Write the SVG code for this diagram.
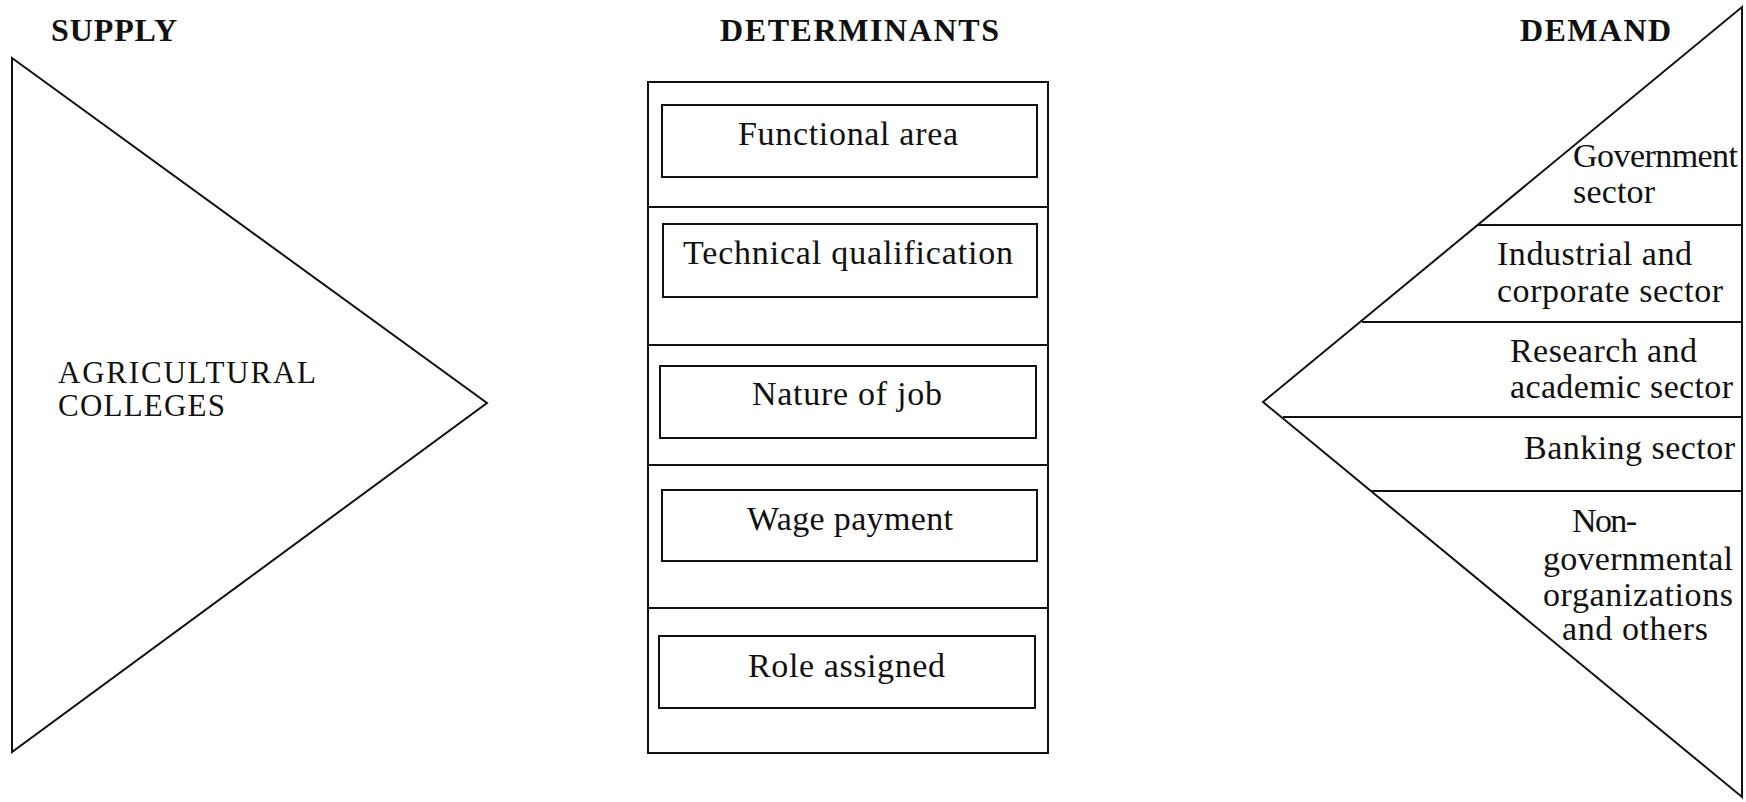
<svg xmlns="http://www.w3.org/2000/svg" width="1746" height="802" viewBox="0 0 1746 802">
  <style>
    .shape { fill: none; stroke: #111; stroke-width: 2; }
    .line { stroke: #111; stroke-width: 2; }
    .head { font-family: "Liberation Serif", "Times New Roman", serif; font-weight: bold; font-size: 32px; fill: #111; }
    .lbl { font-family: "Liberation Serif", "Times New Roman", serif; font-size: 34px; fill: #111; }
    .cap { font-family: "Liberation Serif", "Times New Roman", serif; font-size: 31px; fill: #111; }
  </style>
  <rect width="1746" height="802" fill="#fff"/>

  <!-- column headings -->
  <g id="headings">
    <text class="head" x="51" y="41" textLength="126" lengthAdjust="spacing">SUPPLY</text>
    <text class="head" x="720" y="41" textLength="279" lengthAdjust="spacing">DETERMINANTS</text>
    <text class="head" x="1520" y="41" textLength="151" lengthAdjust="spacing">DEMAND</text>
  </g>

  <!-- supply side: arrow-shaped triangle -->
  <g id="supply">
    <polygon class="shape" points="12,58 487,403 12,752"/>
    <text class="cap" x="58" y="383" textLength="258" lengthAdjust="spacing">AGRICULTURAL</text>
    <text class="cap" x="58" y="416" textLength="167" lengthAdjust="spacing">COLLEGES</text>
  </g>

  <!-- determinants column -->
  <g id="determinants">
    <rect class="shape" x="648" y="82" width="400" height="671"/>
  </g>
  <g id="connectors">
    <line class="line" x1="648" y1="207" x2="1048" y2="207"/>
    <line class="line" x1="648" y1="345" x2="1048" y2="345"/>
    <line class="line" x1="648" y1="465" x2="1048" y2="465"/>
    <line class="line" x1="648" y1="608" x2="1048" y2="608"/>
    <!-- demand sector dividers -->
    <line class="line" x1="1478" y1="225" x2="1742" y2="225"/>
    <line class="line" x1="1362" y1="322" x2="1742" y2="322"/>
    <line class="line" x1="1283" y1="417" x2="1742" y2="417"/>
    <line class="line" x1="1371" y1="491" x2="1742" y2="491"/>
  </g>

  <g id="functional-area">
    <rect class="shape" x="662" y="105" width="375" height="72"/>
    <text class="lbl" x="738" y="145" textLength="220" lengthAdjust="spacing">Functional area</text>
  </g>
  <g id="technical-qualification">
    <rect class="shape" x="663" y="224" width="374" height="73"/>
    <text class="lbl" x="683" y="264" textLength="330" lengthAdjust="spacing">Technical qualification</text>
  </g>
  <g id="nature-of-job">
    <rect class="shape" x="660" y="366" width="376" height="72"/>
    <text class="lbl" x="752" y="405" textLength="190" lengthAdjust="spacing">Nature of job</text>
  </g>
  <g id="wage-payment">
    <rect class="shape" x="662" y="490" width="375" height="71"/>
    <text class="lbl" x="747" y="530" textLength="206" lengthAdjust="spacing">Wage payment</text>
  </g>
  <g id="role-assigned">
    <rect class="shape" x="659" y="636" width="376" height="72"/>
    <text class="lbl" x="748" y="677" textLength="197" lengthAdjust="spacing">Role assigned</text>
  </g>

  <!-- demand side: reversed triangle split into sectors -->
  <g id="demand">
    <polygon class="shape" points="1263,402 1742,7 1742,797"/>
  </g>
  <g id="government-sector">
    <text class="lbl" x="1573" y="167" textLength="165" lengthAdjust="spacing">Government</text>
    <text class="lbl" x="1573" y="203" textLength="82" lengthAdjust="spacing">sector</text>
  </g>
  <g id="industrial-sector">
    <text class="lbl" x="1497" y="265" textLength="195" lengthAdjust="spacing">Industrial and</text>
    <text class="lbl" x="1497" y="302" textLength="226" lengthAdjust="spacing">corporate sector</text>
  </g>
  <g id="research-sector">
    <text class="lbl" x="1510" y="362" textLength="187" lengthAdjust="spacing">Research and</text>
    <text class="lbl" x="1510" y="398" textLength="223" lengthAdjust="spacing">academic sector</text>
  </g>
  <g id="banking-sector">
    <text class="lbl" x="1524" y="459" textLength="211" lengthAdjust="spacing">Banking sector</text>
  </g>
  <g id="ngo-sector">
    <text class="lbl" x="1572" y="532" textLength="65" lengthAdjust="spacing">Non-</text>
    <text class="lbl" x="1543" y="570" textLength="190" lengthAdjust="spacing">governmental</text>
    <text class="lbl" x="1543" y="606" textLength="190" lengthAdjust="spacing">organizations</text>
    <text class="lbl" x="1562" y="640" textLength="146" lengthAdjust="spacing">and others</text>
  </g>
</svg>
